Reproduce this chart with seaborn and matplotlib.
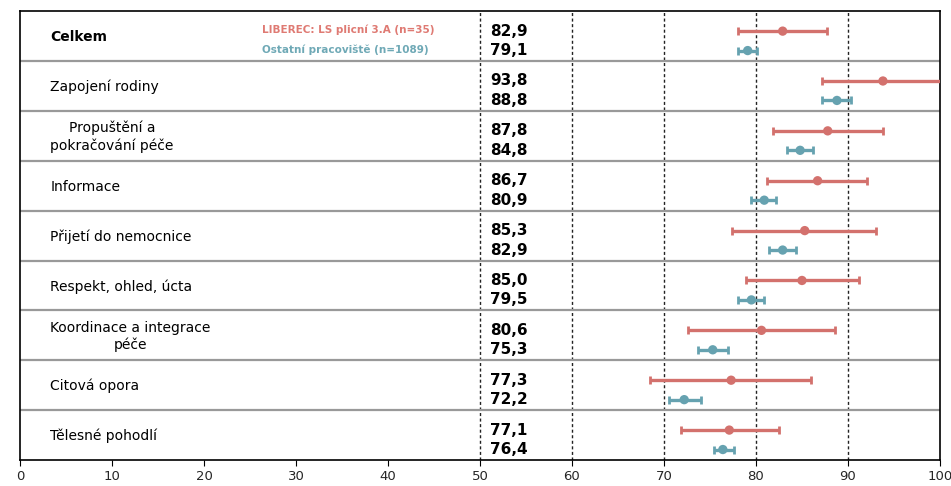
import matplotlib
matplotlib.use("Agg")
import matplotlib.pyplot as plt
import numpy as np
import pandas as pd
import seaborn as sns

# data
categories = [
    "Celkem",
    "Zapojení rodiny",
    "Propuštění a\npokračování péče",
    "Informace",
    "Přijetí do nemocnice",
    "Respekt, ohled, úcta",
    "Koordinace a integrace\npéče",
    "Citová opora",
    "Tělesné pohodlí",
]
liberec_mean = [82.9, 93.8, 87.8, 86.7, 85.3, 85.0, 80.6, 77.3, 77.1]
liberec_lo = [78.1, 87.2, 81.8, 81.2, 77.4, 78.9, 72.6, 68.5, 71.8]
liberec_hi = [87.7, 100.4, 93.8, 92.1, 93.1, 91.2, 88.6, 86.0, 82.5]
ostatni_mean = [79.1, 88.8, 84.8, 80.9, 82.9, 79.5, 75.3, 72.2, 76.4]
ostatni_lo = [78.0, 87.2, 83.4, 79.5, 81.4, 78.0, 73.7, 70.6, 75.4]
ostatni_hi = [80.1, 90.3, 86.2, 82.2, 84.3, 80.9, 77.0, 74.0, 77.6]

legend_labels = ["LIBEREC: LS plicní 3.A (n=35)", "Ostatní pracoviště (n=1089)"]
x_ticks = list(range(0, 101, 10))
grid_values = [50, 60, 70, 80, 90]

RED = "#d3716d"
TEAL = "#66a2b0"


def fmt(v: float) -> str:
    return f"{v:.1f}".replace(".", ",")


def build_frame() -> pd.DataFrame:
    n = len(categories)
    rows = np.arange(n)
    red = pd.DataFrame({"group": legend_labels[0], "mean": liberec_mean,
                        "lo": liberec_lo, "hi": liberec_hi, "y": rows + 0.40})
    teal = pd.DataFrame({"group": legend_labels[1], "mean": ostatni_mean,
                         "lo": ostatni_lo, "hi": ostatni_hi, "y": rows + 0.79})
    return pd.concat([red, teal], ignore_index=True)


def main() -> None:
    sns.set_style("white")
    plt.rcParams["font.family"] = ["DejaVu Sans"]

    df = build_frame()
    palette = {legend_labels[0]: RED, legend_labels[1]: TEAL}

    fig = plt.figure(figsize=(9.51, 4.86), dpi=100)
    ax = fig.add_axes([0.021, 0.0535, 0.9674, 0.9235])

    # error bars per group
    for group, color in palette.items():
        sub = df[df["group"] == group]
        ax.errorbar(sub["mean"], sub["y"],
                    xerr=[sub["mean"] - sub["lo"], sub["hi"] - sub["mean"]],
                    fmt="none", ecolor=color, elinewidth=2.4, capsize=3.0,
                    capthick=2.0, zorder=3)
    sns.scatterplot(data=df, x="mean", y="y", hue="group", palette=palette,
                    s=45, edgecolor="none", legend=False, ax=ax, zorder=4)

    # vertical dotted reference lines
    for gv in grid_values:
        ax.axvline(gv, color="#222222", linestyle=(0, (2.2, 1.8)), linewidth=1.0, zorder=1)

    # horizontal row separators
    for i in range(1, len(categories)):
        ax.axhline(i, color="#999999", linewidth=1.6, zorder=2)

    # row labels and values
    for i, cat in enumerate(categories):
        weight = "bold" if i == 0 else "normal"
        ax.text(3.3, i + 0.52, cat, ha="left", va="center", multialignment="center",
                fontsize=10, fontweight=weight, color="black", linespacing=1.25)
        ax.text(51.1, i + 0.40, fmt(liberec_mean[i]), ha="left", va="center",
                fontsize=11, fontweight="bold", color="black")
        ax.text(51.1, i + 0.79, fmt(ostatni_mean[i]), ha="left", va="center",
                fontsize=11, fontweight="bold", color="black")

    # legend as text in the first row
    ax.text(26.3, 0.38, legend_labels[0], ha="left", va="center", fontsize=7.5,
            fontweight="bold", color="#df7a73")
    ax.text(26.3, 0.78, legend_labels[1], ha="left", va="center", fontsize=7.5,
            fontweight="bold", color="#6fa9b6")

    ax.set_xlim(0, 100)
    ax.set_ylim(len(categories), 0)
    ax.set_xticks(x_ticks)
    ax.set_xticklabels([str(t) for t in x_ticks], fontsize=9.5)
    ax.set_yticks([])
    ax.set_xlabel("")
    ax.set_ylabel("")
    ax.tick_params(axis="x", length=4, width=0.8, color="black", pad=3, bottom=True)
    for side in ["top", "right", "left", "bottom"]:
        ax.spines[side].set_visible(True)
        ax.spines[side].set_color("black")
        ax.spines[side].set_linewidth(1.2)

    fig.savefig("out.png", dpi=100)
    plt.close(fig)


if __name__ == "__main__":
    main()
